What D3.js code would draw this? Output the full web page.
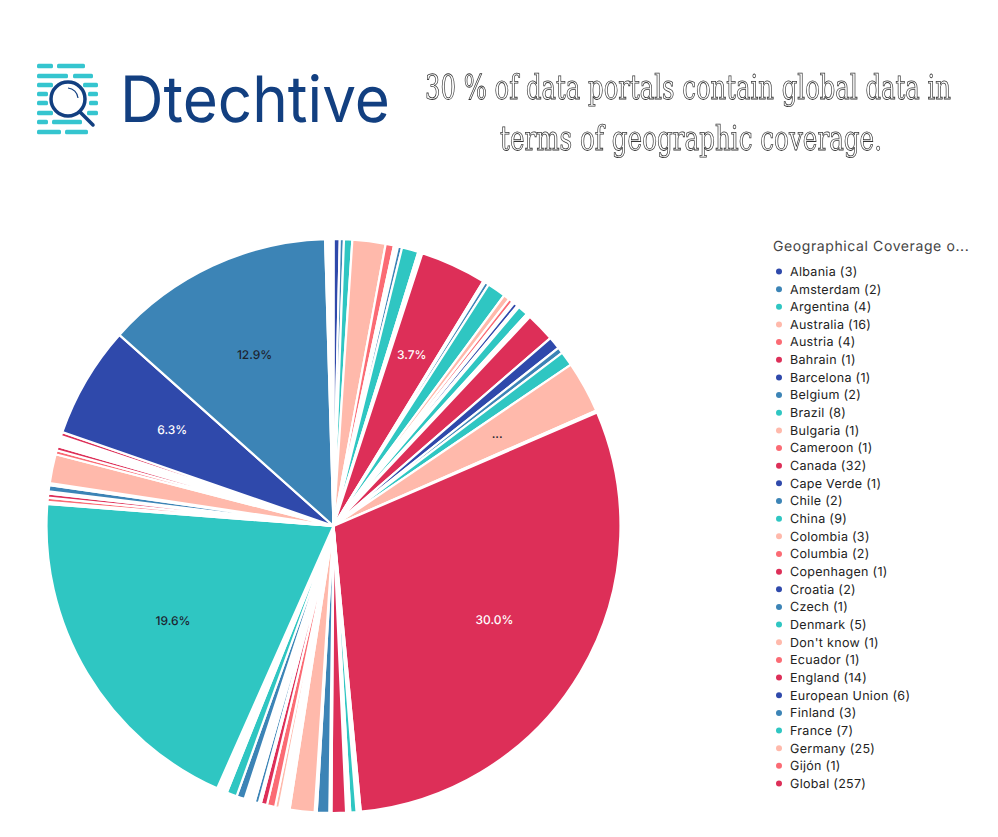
<!DOCTYPE html>
<html>
<head>
<meta charset="utf-8">
<script src="https://cdn.jsdelivr.net/npm/d3@7"></script>
<style>
  html, body { margin: 0; background: #fff; }
  svg { display: block; }
  text { text-rendering: geometricPrecision; }
</style>
</head>
<body>
<svg id="chart"></svg>
<script>
const legendTitle = "Geographical Coverage o...";
const titleLines = ["30 % of data portals contain global data in", "terms of geographic coverage."];

// the 30 slices the legend lists
const legendNames = ["Albania", "Amsterdam", "Argentina", "Australia", "Austria", "Bahrain", "Barcelona", "Belgium",
  "Brazil", "Bulgaria", "Cameroon", "Canada", "Cape Verde", "Chile", "China", "Colombia", "Columbia", "Copenhagen",
  "Croatia", "Czech", "Denmark", "Don't know", "Ecuador", "England", "European Union", "Finland", "France", "Germany",
  "Gijón", "Global"];
const legendCounts = [3, 2, 4, 16, 4, 1, 1, 2, 8, 1, 1, 32, 1, 2, 9, 3, 2, 1, 2, 1, 5, 1, 1, 14, 6, 3, 7, 25, 1, 257];

// slices past the end of the legend, estimated from their width in the picture
const offLegendCounts = [1, 1, 3, 1, 1, 7, 1, 6, 1, 12, 1, 1, 1, 1, 1, 2, 4, 3, 1, 2, 1, 1, 1, 1, 1, 4, 5, 1, 1, 1, 1, 1,
  168, 1, 2, 2, 1, 3, 1, 14, 2, 2, 1, 1, 1, 1, 1, 2, 54, 111, 1, 1, 1, 1];

const palette = ["#2f49ab", "#3c84b6", "#2fc6c2", "#ffb9ab", "#fb6b74", "#dd2f58"];

const width = 998, height = 837;
const cx = 333.5, cy = 526, radius = 287, labelRadius = 187;

const svg = d3.select("#chart").attr("width", width).attr("height", height);

const counts = legendCounts.concat(offLegendCounts);
const total = d3.sum(counts);
const color = (i) => palette[i % palette.length];

const pie = d3.pie().sort(null).value((d) => d);
const arc = d3.arc().innerRadius(0).outerRadius(radius);
const labelArc = d3.arc().innerRadius(labelRadius).outerRadius(labelRadius);

const slices = pie(counts);
const g = svg.append("g").attr("transform", `translate(${cx},${cy})`);

g.selectAll("path")
  .data(slices)
  .join("path")
  .attr("d", arc)
  .attr("fill", (d) => color(d.index))
  .attr("stroke", "#fff")
  .attr("stroke-width", 2.2);

// big slices get a percentage, middling ones only "..."
const sliceLabel = (d) => {
  const share = d.value / total;
  if (share >= 0.035) return d3.format(".1%")(share);
  if (share >= 0.025) return "...";
  return "";
};
const darkLabel = (d) => d.index % 6 === 1 || d.index % 6 === 2 || d.index % 6 === 3;

g.selectAll("text")
  .data(slices.filter((d) => sliceLabel(d)))
  .join("text")
  .attr("transform", (d) => `translate(${labelArc.centroid(d)})`)
  .attr("text-anchor", "middle")
  .attr("dy", "0.25em")
  .attr("font-family", "Inter, Roboto, sans-serif")
  .attr("font-size", 12)
  .attr("font-weight", 500)
  .attr("fill", (d) => darkLabel(d) ? "#1d2430" : "#fff")
  .text(sliceLabel);

// legend
const legend = svg.append("g");
legend.append("text")
  .attr("x", 773).attr("y", 251)
  .attr("font-family", "Inter, Roboto, sans-serif")
  .attr("font-size", 14)
  .attr("letter-spacing", 0.6)
  .attr("fill", "#444")
  .text(legendTitle);

const rowY = d3.scalePoint().domain(d3.range(legendNames.length)).range([271.5, 783.5]);
const rows = legend.selectAll("g.row")
  .data(legendNames)
  .join("g")
  .attr("class", "row")
  .attr("transform", (d, i) => `translate(0,${rowY(i)})`);
rows.append("circle")
  .attr("cx", 779).attr("r", 3)
  .attr("fill", (d, i) => color(i));
rows.append("text")
  .attr("x", 790).attr("dy", "0.35em")
  .attr("font-family", "Inter, Roboto, sans-serif")
  .attr("font-size", 12.5)
  .attr("letter-spacing", 0.3)
  .attr("fill", "#222")
  .text((d, i) => `${d} (${legendCounts[i]})`);

// title with outlined letters, squeezed sideways to the reference width
const titleX = [425, 500];
const titleWidths = [526, 382];
svg.append("g")
  .style("opacity", 0.99)
  .selectAll("text.title")
  .data(titleLines)
  .join("text")
  .attr("class", "title")
  .attr("font-family", "'DejaVu Serif Condensed', 'DejaVu Serif', serif")
  .attr("font-size", 34)
  .attr("fill", "#fff")
  .attr("stroke", "#333")
  .attr("stroke-width", 0.8)
  .text((d) => d)
  .attr("transform", function (d, i) {
    const sx = titleWidths[i] / this.getComputedTextLength();
    return `translate(${titleX[i]},${99 + i * 51}) scale(${sx},1)`;
  });

// logo
const logo = svg.append("g");
const logoBars = [
  [66, [[37, 53], [57, 85]]],
  [76, [[37, 68], [73, 93]]],
  [85, [[37, 53], [83, 98]]],
  [94, [[37, 48], [88, 98]]],
  [103, [[37, 48], [89, 98]]],
  [113, [[37, 53], [87, 98]]],
  [122, [[37, 48], [52, 82]]],
  [132, [[37, 61], [65, 88]]]
];
logoBars.forEach(([y, segs]) => segs.forEach(([x0, x1]) => {
  logo.append("rect").attr("x", x0).attr("y", y - 2.25).attr("width", x1 - x0).attr("height", 4.5)
    .attr("rx", 1.5).attr("fill", "#35c5cf");
}));
logo.append("circle").attr("cx", 68).attr("cy", 99).attr("r", 17)
  .attr("fill", "#fff").attr("stroke", "#123f80").attr("stroke-width", 3.5);
logo.append("line").attr("x1", 80).attr("y1", 112).attr("x2", 93).attr("y2", 125)
  .attr("stroke", "#123f80").attr("stroke-width", 3.5).attr("stroke-linecap", "round");
logo.append("path").attr("d", "M68,88 A11,11 0 0 1 78,98").attr("fill", "none")
  .attr("stroke", "#123f80").attr("stroke-width", 1.2);
logo.append("text")
  .attr("x", 120).attr("y", 122)
  .attr("font-family", "Inter, Roboto, sans-serif")
  .attr("font-size", 64)
  .attr("font-weight", 400)
  .attr("textLength", 270)
  .attr("lengthAdjust", "spacingAndGlyphs")
  .attr("fill", "#123f80")
  .text("Dtechtive");
</script>
</body>
</html>
